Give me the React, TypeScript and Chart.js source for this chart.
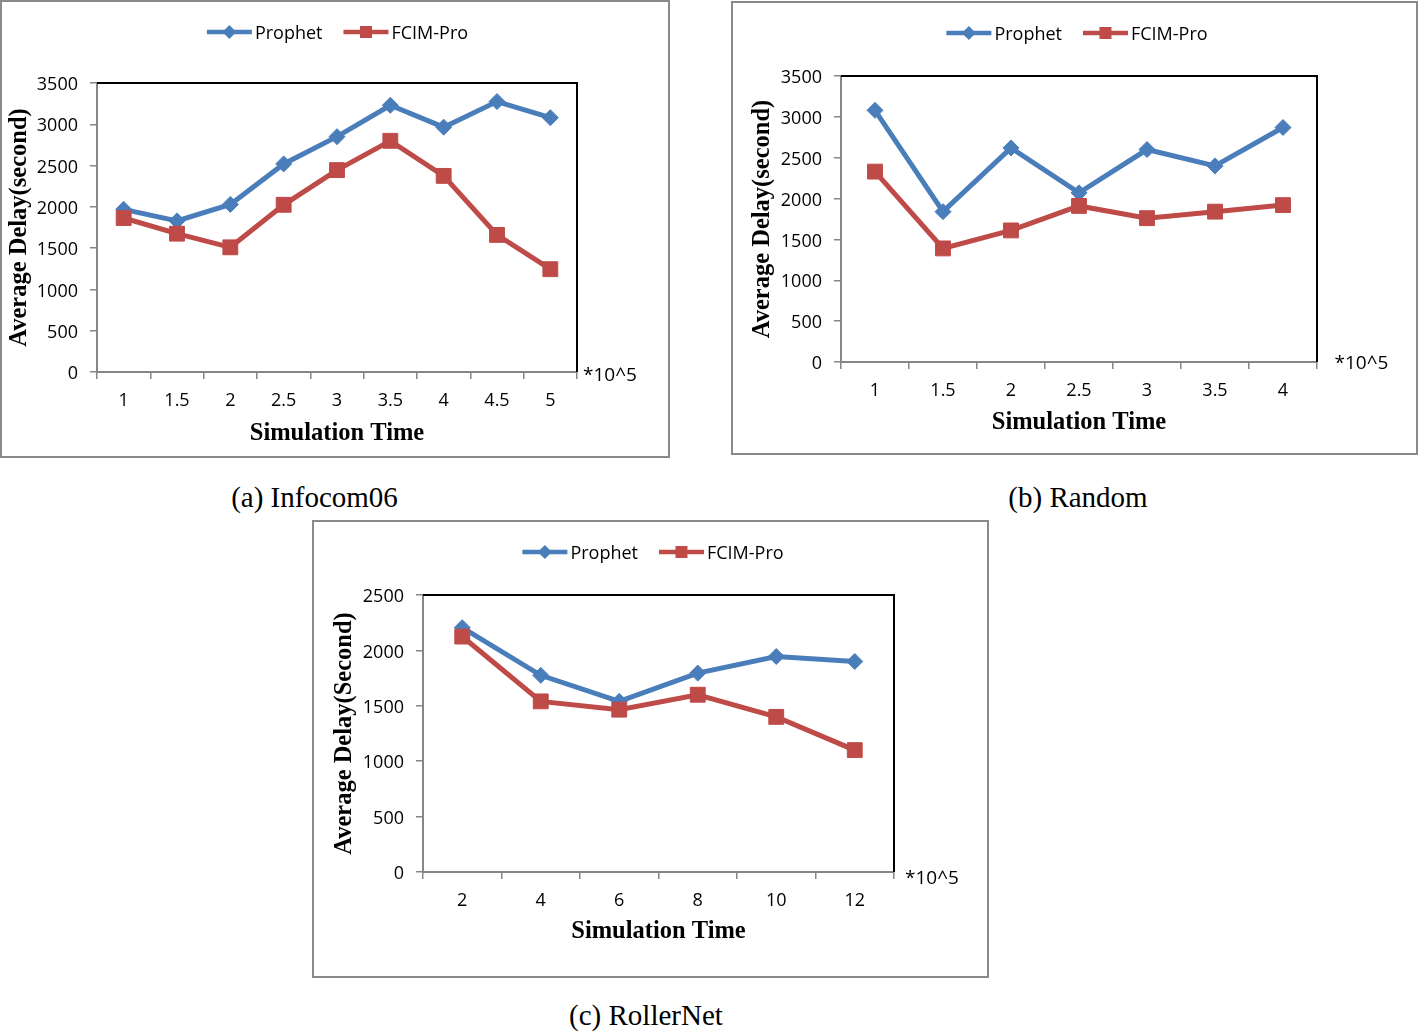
import React, { useEffect, useRef } from "react";
import { Chart, registerables } from "chart.js";

Chart.register(...registerables);

// ---------- data ----------
const seriesNames = ["Prophet", "FCIM-Pro"];

const infocomTimes = ["1", "1.5", "2", "2.5", "3", "3.5", "4", "4.5", "5"];
const infocomProphet = [1970, 1830, 2030, 2520, 2850, 3230, 2965, 3275, 3080];
const infocomFcim = [1865, 1675, 1510, 2025, 2445, 2800, 2375, 1660, 1245];

const randomTimes = ["1", "1.5", "2", "2.5", "3", "3.5", "4"];
const randomProphet = [3080, 1840, 2620, 2070, 2600, 2400, 2870];
const randomFcim = [2330, 1390, 1610, 1910, 1760, 1840, 1920];

const rollerTimes = ["2", "4", "6", "8", "10", "12"];
const rollerProphet = [2205, 1775, 1540, 1795, 1945, 1900];
const rollerFcim = [2125, 1540, 1465, 1600, 1400, 1100];

const yMaxInfocom = 3500;
const yMaxRandom = 3500;
const yMaxRoller = 2500;
const yStep = 500;

const yTitleLower = "Average Delay(second)";
const yTitleUpper = "Average Delay(Second)";
const xTitle = "Simulation Time";
const unitLabel = "*10^5";
const captions = ["(a) Infocom06", "(b) Random", "(c) RollerNet"];

// ---------- styles ----------
const BLUE = "#4A7EBB";
const RED = "#BE4B48";
const AXIS_GRAY = "#868686";
const SANS = '"Open Sans"';
const SERIF = '"Liberation Serif"';

type Box = { left: number; top: number; w: number; h: number };
type Rect = { left: number; top: number; right: number; bottom: number };

type PanelProps = {
  frame: Box;
  plot: Rect;
  labels: string[];
  prophet: number[];
  fcim: number[];
  yMax: number;
  yTitle: string;
  yTitleCenterX: number; // canvas coords
  xTitleCenterY: number; // canvas coords
  unitDx: number;
  unitDy: number;
};

function Panel(p: PanelProps) {
  const ref = useRef<HTMLCanvasElement>(null);
  const W = p.frame.w - 4;
  const H = p.frame.h - 4;

  useEffect(() => {
    const canvas = ref.current;
    if (!canvas) return;
    const cx = p.frame.left + 2;
    const cy = p.frame.top + 2;
    const pl = p.plot.left - cx;
    const pt = p.plot.top - cy;
    const pr = p.plot.right - cx;
    const pb = p.plot.bottom - cy;

    const titleSize = 24.5;
    const halfTitleLine = (titleSize * 1.2) / 2;
    const yTitleFont = { family: SERIF, size: titleSize, weight: "bold" as const, lineHeight: 1.2 };
    const tickFont = { family: SANS, size: 18, lineHeight: 1.2 };

    const decorations = {
      id: "decorations",
      afterDraw(chart: any) {
        const ctx = chart.ctx as CanvasRenderingContext2D;
        const a = chart.chartArea;
        ctx.save();
        // plot area frame (top & right)
        ctx.strokeStyle = "#000";
        ctx.lineWidth = 2;
        ctx.beginPath();
        ctx.moveTo(a.left, a.top);
        ctx.lineTo(a.right, a.top);
        ctx.lineTo(a.right, a.bottom);
        ctx.stroke();

        // unit label
        ctx.fillStyle = "#000";
        ctx.font = `19px ${SANS}`;
        ctx.textAlign = "left";
        ctx.textBaseline = "middle";
        ctx.fillText(unitLabel, a.right + p.unitDx, a.bottom + p.unitDy);

        // legend
        ctx.font = `18px ${SANS}`;
        const lineLen = 45;
        const gap = 3;
        const sep = 21;
        const items = [
          { name: seriesNames[0], color: BLUE, shape: "diamond" },
          { name: seriesNames[1], color: RED, shape: "square" },
        ];
        const widths = items.map((it) => lineLen + gap + ctx.measureText(it.name).width);
        const total = widths[0] + widths[1] + sep;
        let x = chart.width / 2 + 2.5 - total / 2;
        const y = 30;
        items.forEach((it, i) => {
          ctx.strokeStyle = it.color;
          ctx.lineWidth = 4.5;
          ctx.beginPath();
          ctx.moveTo(x, y);
          ctx.lineTo(x + lineLen, y);
          ctx.stroke();
          const mx = x + lineLen / 2;
          ctx.fillStyle = it.color;
          ctx.beginPath();
          if (it.shape === "diamond") {
            const r = 7;
            ctx.moveTo(mx - r, y);
            ctx.lineTo(mx, y - r);
            ctx.lineTo(mx + r, y);
            ctx.lineTo(mx, y + r);
            ctx.closePath();
          } else {
            const s = 6;
            ctx.rect(mx - s, y - s, 2 * s, 2 * s);
          }
          ctx.fill();
          ctx.fillStyle = "#000";
          ctx.textBaseline = "middle";
          ctx.fillText(it.name, x + lineLen + gap, y + 1.5);
          x += widths[i] + sep;
        });
        ctx.restore();
      },
    };

    const chart = new Chart(canvas, {
      type: "line",
      data: {
        labels: p.labels,
        datasets: [
          {
            label: seriesNames[0],
            data: p.prophet,
            borderColor: BLUE,
            backgroundColor: BLUE,
            borderWidth: 5,
            pointStyle: "rectRot",
            pointRadius: 8,
            pointBorderWidth: 1,
            pointBackgroundColor: BLUE,
            pointBorderColor: BLUE,
            tension: 0,
            order: 1,
          },
          {
            label: seriesNames[1],
            data: p.fcim,
            borderColor: RED,
            backgroundColor: RED,
            borderWidth: 5,
            pointStyle: "rect",
            pointRadius: 10.5,
            pointBorderWidth: 1,
            pointBackgroundColor: RED,
            pointBorderColor: RED,
            tension: 0,
            order: 0,
          },
        ],
      },
      options: {
        responsive: false,
        animation: false,
        devicePixelRatio: 1,
        layout: { padding: { left: 0, top: pt, right: W - pr, bottom: 0 } },
        plugins: {
          legend: { display: false },
          tooltip: { enabled: false },
          title: { display: false },
        },
        scales: {
          x: {
            type: "category",
            offset: true,
            grid: {
              offset: true,
              drawOnChartArea: false,
              drawTicks: true,
              tickLength: 7,
              color: AXIS_GRAY,
              lineWidth: 1.5,
            },
            border: { display: true, color: AXIS_GRAY, width: 2 },
            ticks: {
              color: "#000",
              font: tickFont,
              padding: 11.5,
              maxRotation: 0,
              minRotation: 0,
              autoSkip: false,
            },
            title: {
              display: true,
              text: xTitle,
              color: "#000",
              font: yTitleFont,
              padding: { top: 0, bottom: H - p.xTitleCenterY - halfTitleLine },
            },
            afterFit: (s: any) => {
              s.height = H - pb;
            },
          },
          y: {
            type: "linear",
            min: 0,
            max: p.yMax,
            grid: {
              drawOnChartArea: false,
              drawTicks: true,
              tickLength: 7,
              color: AXIS_GRAY,
              lineWidth: 1.5,
            },
            border: { display: true, color: AXIS_GRAY, width: 2 },
            ticks: {
              stepSize: yStep,
              color: "#000",
              font: tickFont,
              padding: 12,
              labelOffset: 2,
              callback: (v: any) => String(v),
            },
            title: {
              display: true,
              text: p.yTitle,
              color: "#000",
              font: yTitleFont,
              padding: { top: p.yTitleCenterX - halfTitleLine, bottom: 0 },
            },
            afterFit: (s: any) => {
              s.width = pl;
            },
          },
        },
      },
      plugins: [decorations],
    } as any);
    return () => chart.destroy();
  }, []);

  return (
    <div
      style={{
        position: "absolute",
        left: p.frame.left,
        top: p.frame.top,
        width: p.frame.w,
        height: p.frame.h,
        border: "2px solid #8a8a8a",
        boxSizing: "border-box",
        background: "#fff",
      }}
    >
      <canvas ref={ref} width={W} height={H} style={{ display: "block", width: W, height: H }} />
    </div>
  );
}

function Caption({ text, cx, top }: { text: string; cx: number; top: number }) {
  return (
    <div
      style={{
        position: "absolute",
        left: cx - 200,
        top,
        width: 400,
        textAlign: "center",
        fontFamily: SERIF,
        fontSize: 29,
        lineHeight: 1,
        color: "#000",
        whiteSpace: "nowrap",
      }}
    >
      {text}
    </div>
  );
}

export default function App() {
  return (
    <div style={{ position: "absolute", left: 0, top: 0, width: 1418, height: 1031, background: "#fff" }}>
      <Panel
        frame={{ left: 0, top: 0, w: 670, h: 458 }}
        plot={{ left: 97, top: 83, right: 577, bottom: 372 }}
        labels={infocomTimes}
        prophet={infocomProphet}
        fcim={infocomFcim}
        yMax={yMaxInfocom}
        yTitle={yTitleLower}
        yTitleCenterX={18}
        xTitleCenterY={431.5}
        unitDx={6}
        unitDy={4}
      />
      <Panel
        frame={{ left: 731, top: 1, w: 687, h: 454 }}
        plot={{ left: 841, top: 76, right: 1317, bottom: 362 }}
        labels={randomTimes}
        prophet={randomProphet}
        fcim={randomFcim}
        yMax={yMaxRandom}
        yTitle={yTitleLower}
        yTitleCenterX={30}
        xTitleCenterY={420}
        unitDx={17.5}
        unitDy={1.5}
      />
      <Panel
        frame={{ left: 312, top: 520, w: 677, h: 458 }}
        plot={{ left: 423, top: 595, right: 894, bottom: 872 }}
        labels={rollerTimes}
        prophet={rollerProphet}
        fcim={rollerFcim}
        yMax={yMaxRoller}
        yTitle={yTitleUpper}
        yTitleCenterX={30.5}
        xTitleCenterY={410}
        unitDx={11}
        unitDy={7}
      />
      <Caption text={captions[0]} cx={314.5} top={483} />
      <Caption text={captions[1]} cx={1078} top={483} />
      <Caption text={captions[2]} cx={646} top={1001} />
    </div>
  );
}
